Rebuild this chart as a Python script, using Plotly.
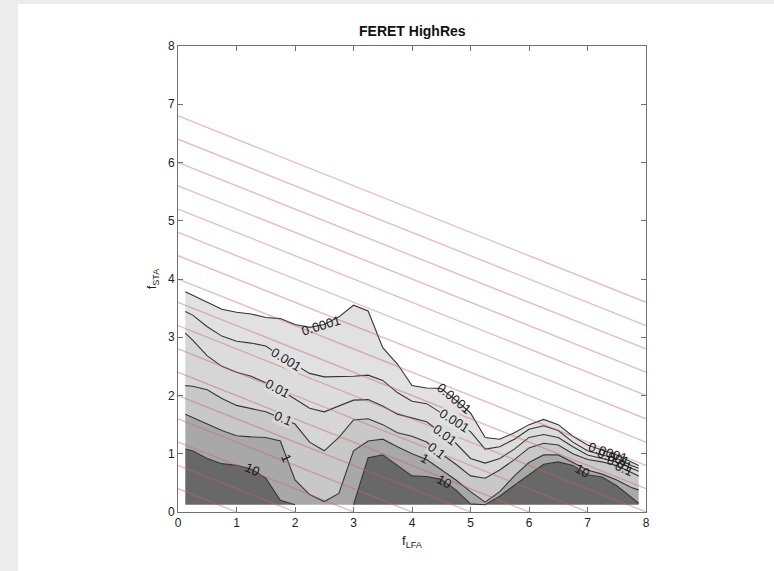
import numpy as np
import plotly.graph_objects as go

# ---------------- data ----------------
x_lfa = [0.125, 0.25, 0.5, 0.75, 1.0, 1.25, 1.5, 1.75, 2.0, 2.25, 2.5, 2.75, 3.0, 3.25,
         3.5, 3.75, 4.0, 4.25, 4.5, 4.75, 5.0, 5.25, 5.5, 5.75, 6.0, 6.25, 6.5, 6.75,
         7.0, 7.25, 7.5, 7.75, 7.875]
BOTTOM = 0.125  # lower edge of the sampled region

# f_STA height of each contour level along f_LFA
h_0p0001 = [3.78, 3.72, 3.60, 3.48, 3.43, 3.40, 3.34, 3.32, 3.22, 3.17, 3.22, 3.35, 3.55, 3.45,
            2.82, 2.54, 2.17, 2.13, 2.12, 1.92, 1.70, 1.28, 1.25, 1.36, 1.50, 1.59, 1.50, 1.30,
            1.15, 1.06, 0.98, 0.86, 0.80]
h_0p001 = [3.44, 3.38, 3.18, 3.02, 2.93, 2.90, 2.85, 2.68, 2.53, 2.38, 2.32, 2.32, 2.33, 2.35,
           2.26, 2.05, 1.90, 1.86, 1.70, 1.55, 1.38, 1.08, 1.12, 1.25, 1.42, 1.48, 1.40, 1.20,
           1.05, 0.98, 0.92, 0.80, 0.75]
h_0p01 = [3.07, 2.95, 2.68, 2.50, 2.40, 2.33, 2.22, 2.10, 1.94, 1.78, 1.72, 1.82, 1.92, 1.93,
          1.82, 1.68, 1.62, 1.55, 1.36, 1.18, 0.92, 0.84, 0.92, 1.08, 1.28, 1.33, 1.28, 1.12,
          0.98, 0.92, 0.86, 0.75, 0.70]
h_0p1 = [2.17, 2.16, 2.10, 1.95, 1.83, 1.77, 1.72, 1.62, 1.51, 1.20, 1.05, 1.28, 1.58, 1.60,
         1.50, 1.36, 1.30, 1.20, 1.00, 0.82, 0.62, 0.58, 0.72, 0.90, 1.10, 1.18, 1.15, 1.00,
         0.90, 0.86, 0.80, 0.68, 0.62]
h_1 = [1.68, 1.62, 1.51, 1.40, 1.31, 1.29, 1.28, 1.22, 0.55, 0.30, 0.18, 0.32, 1.05, 1.22,
       1.25, 1.12, 1.00, 0.90, 0.72, 0.55, 0.35, 0.17, 0.35, 0.62, 0.85, 0.98, 0.98, 0.85,
       0.72, 0.65, 0.55, 0.42, 0.38]
h_10 = [1.08, 1.05, 0.92, 0.83, 0.80, 0.74, 0.58, 0.20, 0.125, 0.125, 0.125, 0.125, 0.125, 0.93,
        0.98, 0.80, 0.62, 0.61, 0.56, 0.38, 0.14, 0.125, 0.27, 0.46, 0.64, 0.82, 0.86, 0.80,
        0.64, 0.60, 0.45, 0.25, 0.15]

level_names = ["10", "1", "0.1", "0.01", "0.001", "0.0001"]
level_heights = [h_10, h_1, h_0p1, h_0p01, h_0p001, h_0p0001]
band_colors = ["#686868", "#a8a8a8", "#c8c8c8", "#d6d6d6", "#dcdcdc", "#e1e1e1"]
# label backgrounds (None = transparent) per level, to break the line like MATLAB clabel
label_bg = {"10": None, "1": None, "0.1": "#d6d6d6", "0.01": "#dcdcdc",
            "0.001": "#e1e1e1", "0.0001": None}

# where the inline contour labels sit (level, f_LFA position)
label_level = ["0.0001", "0.0001", "0.0001", "0.001", "0.001", "0.001", "0.01", "0.01", "0.01",
               "0.1", "0.1", "0.1", "1", "1", "10", "10", "10"]
label_x = [2.45, 4.72, 7.35, 1.85, 4.72, 7.45, 1.70, 4.55, 7.55,
           1.80, 4.42, 7.62, 1.86, 4.22, 1.27, 4.55, 6.90]

# pink iso-lines f_STA = c + slope * f_LFA
pink_intercepts = [0.4, 0.8, 1.2, 1.6, 2.0, 2.4, 2.8, 3.2, 3.6, 4.0, 4.4, 4.8, 5.2, 5.6, 6.0, 6.4, 6.8]
pink_slope = -0.4

x_ticks = [0, 1, 2, 3, 4, 5, 6, 7, 8]
y_ticks = [0, 1, 2, 3, 4, 5, 6, 7, 8]

# ---------------- figure ----------------
FONT = "Liberation Sans, Arial, Helvetica, sans-serif"
W, H = 774, 571
ML, MR, MT, MB = 178, 128, 46, 59

fig = go.Figure()

# filled bands
fig.add_trace(go.Scatter(x=x_lfa, y=[BOTTOM] * len(x_lfa), mode="lines",
                         line=dict(width=0, color="rgba(0,0,0,0)"),
                         hoverinfo="skip", showlegend=False))
for name, h, col in zip(level_names, level_heights, band_colors):
    fig.add_trace(go.Scatter(x=x_lfa, y=h, mode="lines", fill="tonexty", fillcolor=col,
                             line=dict(width=0, color=col), hoverinfo="skip",
                             showlegend=False, name=name))

# contour lines (hidden where the level lies on the lower edge)
for name, h in zip(level_names, level_heights):
    ys = []
    n = len(h)
    for i in range(n):
        at_b = h[i] <= BOTTOM + 1e-9
        prev_b = i == 0 or h[i - 1] <= BOTTOM + 1e-9
        next_b = i == n - 1 or h[i + 1] <= BOTTOM + 1e-9
        ys.append(None if (at_b and prev_b and next_b) else h[i])
    fig.add_trace(go.Scatter(x=x_lfa, y=ys, mode="lines",
                             line=dict(width=1.1, color="#353535"),
                             connectgaps=False, hoverinfo="skip", showlegend=False))

# pink lines
for c in pink_intercepts:
    x_end = min(8.0, -c / pink_slope)
    fig.add_trace(go.Scatter(x=[0, x_end], y=[c, c + pink_slope * x_end], mode="lines",
                             line=dict(width=1.3, color="rgba(205,95,115,0.45)"),
                             hoverinfo="skip", showlegend=False))

# inline labels
ppu_x = (W - ML - MR) / 8.0
ppu_y = (H - MT - MB) / 8.0
for lev, lx in zip(label_level, label_x):
    h = level_heights[level_names.index(lev)]
    ly = float(np.interp(lx, x_lfa, h))
    y1 = float(np.interp(lx - 0.15, x_lfa, h))
    y2 = float(np.interp(lx + 0.15, x_lfa, h))
    ang = -np.degrees(np.arctan2((y2 - y1) * ppu_y, 0.3 * ppu_x))
    bg = label_bg[lev] if lx < 7 else None
    kw = dict(bgcolor=bg, borderpad=0) if bg else {}
    fig.add_annotation(x=lx, y=ly, text=lev, showarrow=False, textangle=ang,
                       font=dict(family=FONT, size=13, color="#1a1a1a"), **kw)

# title
fig.add_annotation(xref="paper", yref="paper", x=0.5, y=1, yanchor="bottom", yshift=5,
                   text="<b>FERET HighRes</b>", showarrow=False,
                   font=dict(family=FONT, size=14, color="#111"))

axis_common = dict(range=[0, 8], showgrid=False, zeroline=False, showline=True,
                   linecolor="#707070", linewidth=1, mirror="allticks", ticks="inside",
                   ticklen=5, tickcolor="#707070",
                   tickfont=dict(family=FONT, size=12, color="#222"))
fig.update_xaxes(**axis_common, tickvals=x_ticks,
                 title=dict(text="f<sub>LFA</sub>", standoff=6,
                            font=dict(family=FONT, size=13, color="#222")))
fig.update_yaxes(**axis_common, tickvals=y_ticks,
                 title=dict(text="f<sub>STA</sub>", standoff=8,
                            font=dict(family=FONT, size=13, color="#222")))

# light grey page edges
fig.add_shape(type="rect", xref="paper", yref="paper", layer="below",
              x0=-ML / (W - ML - MR), x1=(-ML + 18) / (W - ML - MR),
              y0=-MB / (H - MT - MB), y1=1 + MT / (H - MT - MB),
              fillcolor="#ececec", line=dict(width=0))
fig.add_shape(type="rect", xref="paper", yref="paper", layer="below",
              x0=-ML / (W - ML - MR), x1=1 + MR / (W - ML - MR),
              y0=1 + (MT - 4) / (H - MT - MB), y1=1 + MT / (H - MT - MB),
              fillcolor="#ececec", line=dict(width=0))

fig.update_layout(width=W, height=H, margin=dict(l=ML, r=MR, t=MT, b=MB),
                  paper_bgcolor="white", plot_bgcolor="white", showlegend=False)

fig.write_html("out.html")
